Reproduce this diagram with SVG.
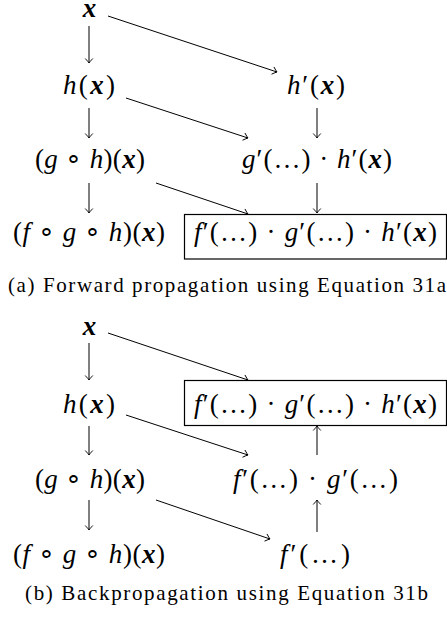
<svg xmlns="http://www.w3.org/2000/svg" width="447" height="620" viewBox="0 0 447 620">
<style>
.m{font-family:'Liberation Serif','Times New Roman',serif;font-size:27px;fill:#000;text-anchor:middle}
.i{font-style:italic}
.b{font-style:italic;font-weight:bold}
.cap{font-family:'Liberation Serif','Times New Roman',serif;font-size:21px;fill:#000;text-anchor:middle}
.e{stroke:#000;stroke-width:1;fill:none;marker-end:url(#ah)}
.box{stroke:#000;stroke-width:1.2;fill:#fff}
</style>
<defs>
<marker id="ah" markerWidth="10" markerHeight="10" refX="0" refY="0" viewBox="-6 -5 7 10" orient="auto" markerUnits="userSpaceOnUse">
<path d="M-4.5,-3.8 Q-1.3,-0.8 0,0 Q-1.3,0.8 -4.5,3.8" stroke="#000" stroke-width="0.9" fill="none"/>
</marker>
</defs>
<rect width="447" height="620" fill="#fff"/>

<g id="edges-a">
<line class="e" x1="89" y1="26" x2="89" y2="63"/>
<line class="e" x1="108" y1="16" x2="277" y2="72"/>
<line class="e" x1="89" y1="108" x2="89" y2="138"/>
<line class="e" x1="126" y1="98" x2="248" y2="138"/>
<line class="e" x1="317" y1="108" x2="317" y2="138"/>
<line class="e" x1="89" y1="183" x2="89" y2="213"/>
<line class="e" x1="156" y1="183" x2="248" y2="214"/>
<line class="e" x1="317" y1="183" x2="317" y2="213"/>
</g>

<g id="a-x"><text class="m" x="89.5" y="17"><tspan class="b">x</tspan></text></g>
<g id="a-h"><text class="m" x="89" y="94" textLength="52" lengthAdjust="spacing"><tspan class="i">h</tspan>(<tspan class="b">x</tspan>)</text></g>
<g id="a-hp"><text class="m" x="316" y="94" textLength="58" lengthAdjust="spacing"><tspan class="i">h</tspan>′(<tspan class="b">x</tspan>)</text></g>
<g id="a-gh"><text class="m" x="90" y="168" textLength="110" lengthAdjust="spacing">(<tspan class="i">g</tspan> ∘ <tspan class="i">h</tspan>)(<tspan class="b">x</tspan>)</text></g>
<g id="a-gphp"><text class="m" x="317" y="168" textLength="150" lengthAdjust="spacing"><tspan class="i">g</tspan>′(…) · <tspan class="i">h</tspan>′(<tspan class="b">x</tspan>)</text></g>
<g id="a-fgh"><text class="m" x="89" y="241" textLength="152" lengthAdjust="spacing">(<tspan class="i">f</tspan> ∘ <tspan class="i">g</tspan> ∘ <tspan class="i">h</tspan>)(<tspan class="b">x</tspan>)</text></g>
<g id="a-res">
<rect class="box" x="184.5" y="214.5" width="262" height="44.5"/>
<text class="m" x="315.5" y="241" textLength="243" lengthAdjust="spacing"><tspan class="i">f</tspan>′(…) · <tspan class="i">g</tspan>′(…) · <tspan class="i">h</tspan>′(<tspan class="b">x</tspan>)</text>
</g>
<g id="cap-a"><text class="cap" x="227" y="292" textLength="438" lengthAdjust="spacing">(a) Forward propagation using Equation 31a</text></g>

<g id="edges-b">
<line class="e" x1="89" y1="343" x2="89" y2="380"/>
<line class="e" x1="108" y1="333" x2="248" y2="380"/>
<line class="e" x1="89" y1="426" x2="89" y2="455"/>
<line class="e" x1="126" y1="415" x2="248" y2="455"/>
<line class="e" x1="317" y1="455" x2="317" y2="426"/>
<line class="e" x1="89" y1="500" x2="89" y2="530"/>
<line class="e" x1="156" y1="500" x2="270" y2="539"/>
<line class="e" x1="317" y1="532" x2="317" y2="500"/>
</g>

<g id="b-x"><text class="m" x="89.5" y="335"><tspan class="b">x</tspan></text></g>
<g id="b-h"><text class="m" x="89" y="413" textLength="52" lengthAdjust="spacing"><tspan class="i">h</tspan>(<tspan class="b">x</tspan>)</text></g>
<g id="b-res">
<rect class="box" x="184.5" y="380.5" width="262" height="45"/>
<text class="m" x="315.5" y="413" textLength="243" lengthAdjust="spacing"><tspan class="i">f</tspan>′(…) · <tspan class="i">g</tspan>′(…) · <tspan class="i">h</tspan>′(<tspan class="b">x</tspan>)</text>
</g>
<g id="b-gh"><text class="m" x="90" y="488" textLength="110" lengthAdjust="spacing">(<tspan class="i">g</tspan> ∘ <tspan class="i">h</tspan>)(<tspan class="b">x</tspan>)</text></g>
<g id="b-fpgp"><text class="m" x="315.5" y="488" textLength="165" lengthAdjust="spacing"><tspan class="i">f</tspan>′(…) · <tspan class="i">g</tspan>′(…)</text></g>
<g id="b-fgh"><text class="m" x="89" y="563" textLength="152" lengthAdjust="spacing">(<tspan class="i">f</tspan> ∘ <tspan class="i">g</tspan> ∘ <tspan class="i">h</tspan>)(<tspan class="b">x</tspan>)</text></g>
<g id="b-fp"><text class="m" x="315" y="563" textLength="70" lengthAdjust="spacing"><tspan class="i">f</tspan>′(…)</text></g>
<g id="cap-b"><text class="cap" x="226.5" y="600" textLength="403" lengthAdjust="spacing">(b) Backpropagation using Equation 31b</text></g>
</svg>
